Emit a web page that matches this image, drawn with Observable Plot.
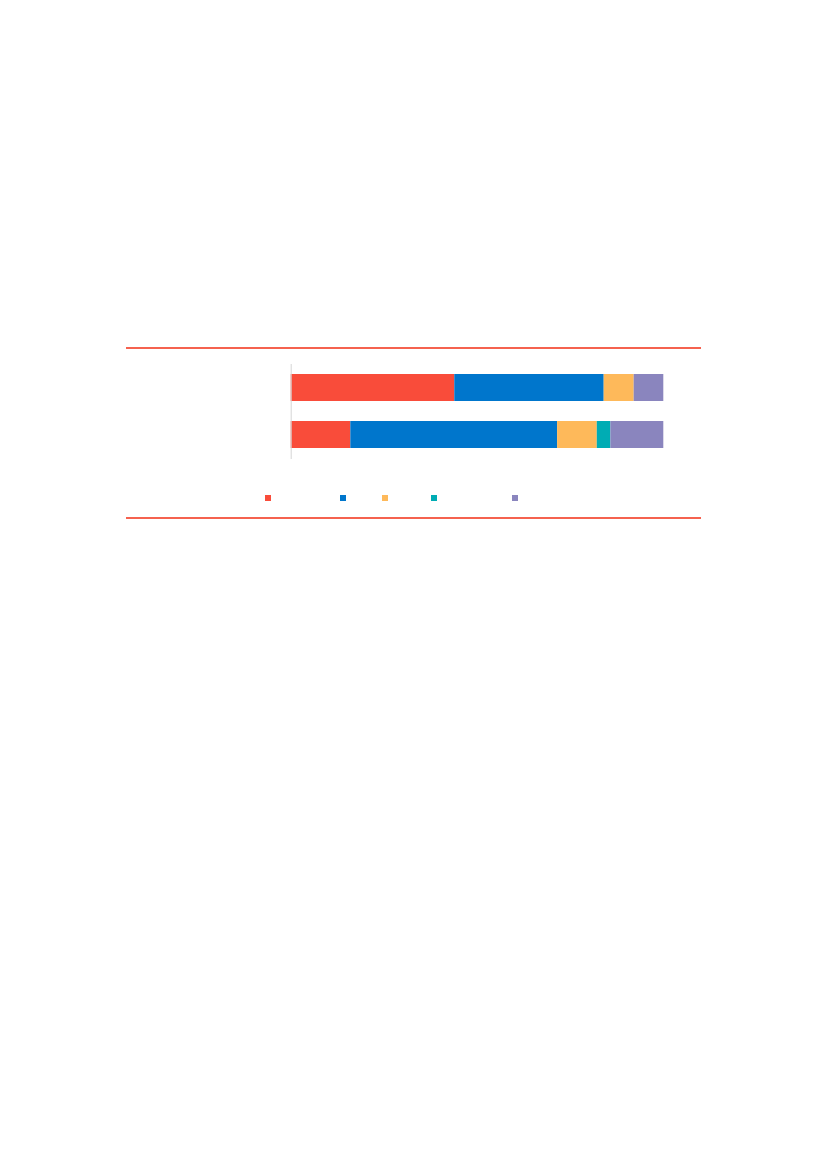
<!DOCTYPE html>
<html>
<head>
<meta charset="utf-8">
<script src="https://cdn.jsdelivr.net/npm/d3@7"></script>
<script src="https://cdn.jsdelivr.net/npm/@observablehq/plot@0.6"></script>
<style>
  html, body { margin: 0; padding: 0; background: #fff; }
  body { position: relative; width: 827px; height: 1169px; overflow: hidden; font-family: "Open Sans", sans-serif; }
  #chart { position: absolute; left: 0; top: 0; }
  .rule { position: absolute; left: 126px; width: 575px; height: 2px; background: #f5624f; }
  .sw { position: absolute; width: 6px; height: 6px; top: 495px; }
</style>
</head>
<body>
<div class="rule" style="top:346.5px"></div>
<div id="chart"></div>
<div id="legend"></div>
<div class="rule" style="top:516.5px"></div>
<script>
const categories = ["Row 1", "Row 2"];
const series = ["Series 1", "Series 2", "Series 3", "Series 4", "Series 5"];
const colors = ["#f94c3a", "#0076cc", "#feb95a", "#00acb4", "#8a85be"];
const row1Values = [43.9, 40.1, 8.05, 0, 7.95];
const row2Values = [16.0, 55.5, 10.65, 3.65, 14.2];

const table = [];
[row1Values, row2Values].forEach((vals, i) => {
  vals.forEach((v, j) => table.push({category: categories[i], series: series[j], value: v}));
});

const chart = Plot.plot({
  width: 827,
  height: 469,
  marginLeft: 290.7,
  marginRight: 163.7,
  marginTop: 364,
  marginBottom: 10,
  x: {domain: [0, 100], axis: null},
  y: {domain: categories, axis: null, paddingInner: 0.425, paddingOuter: 0.206},
  color: {domain: series, range: colors},
  marks: [
    Plot.barX(table, Plot.stackX({x: "value", y: "category", fill: "series", order: series})),
    Plot.ruleX([0], {stroke: "#d6d6d6", strokeWidth: 1})
  ]
});
document.getElementById("chart").appendChild(chart);

const legendLeft = [265, 340, 382, 431, 512];
const legend = document.getElementById("legend");
series.forEach((s, i) => {
  const d = document.createElement("div");
  d.className = "sw";
  d.style.left = legendLeft[i] + "px";
  d.style.background = colors[i];
  d.title = s;
  legend.appendChild(d);
});
</script>
</body>
</html>
